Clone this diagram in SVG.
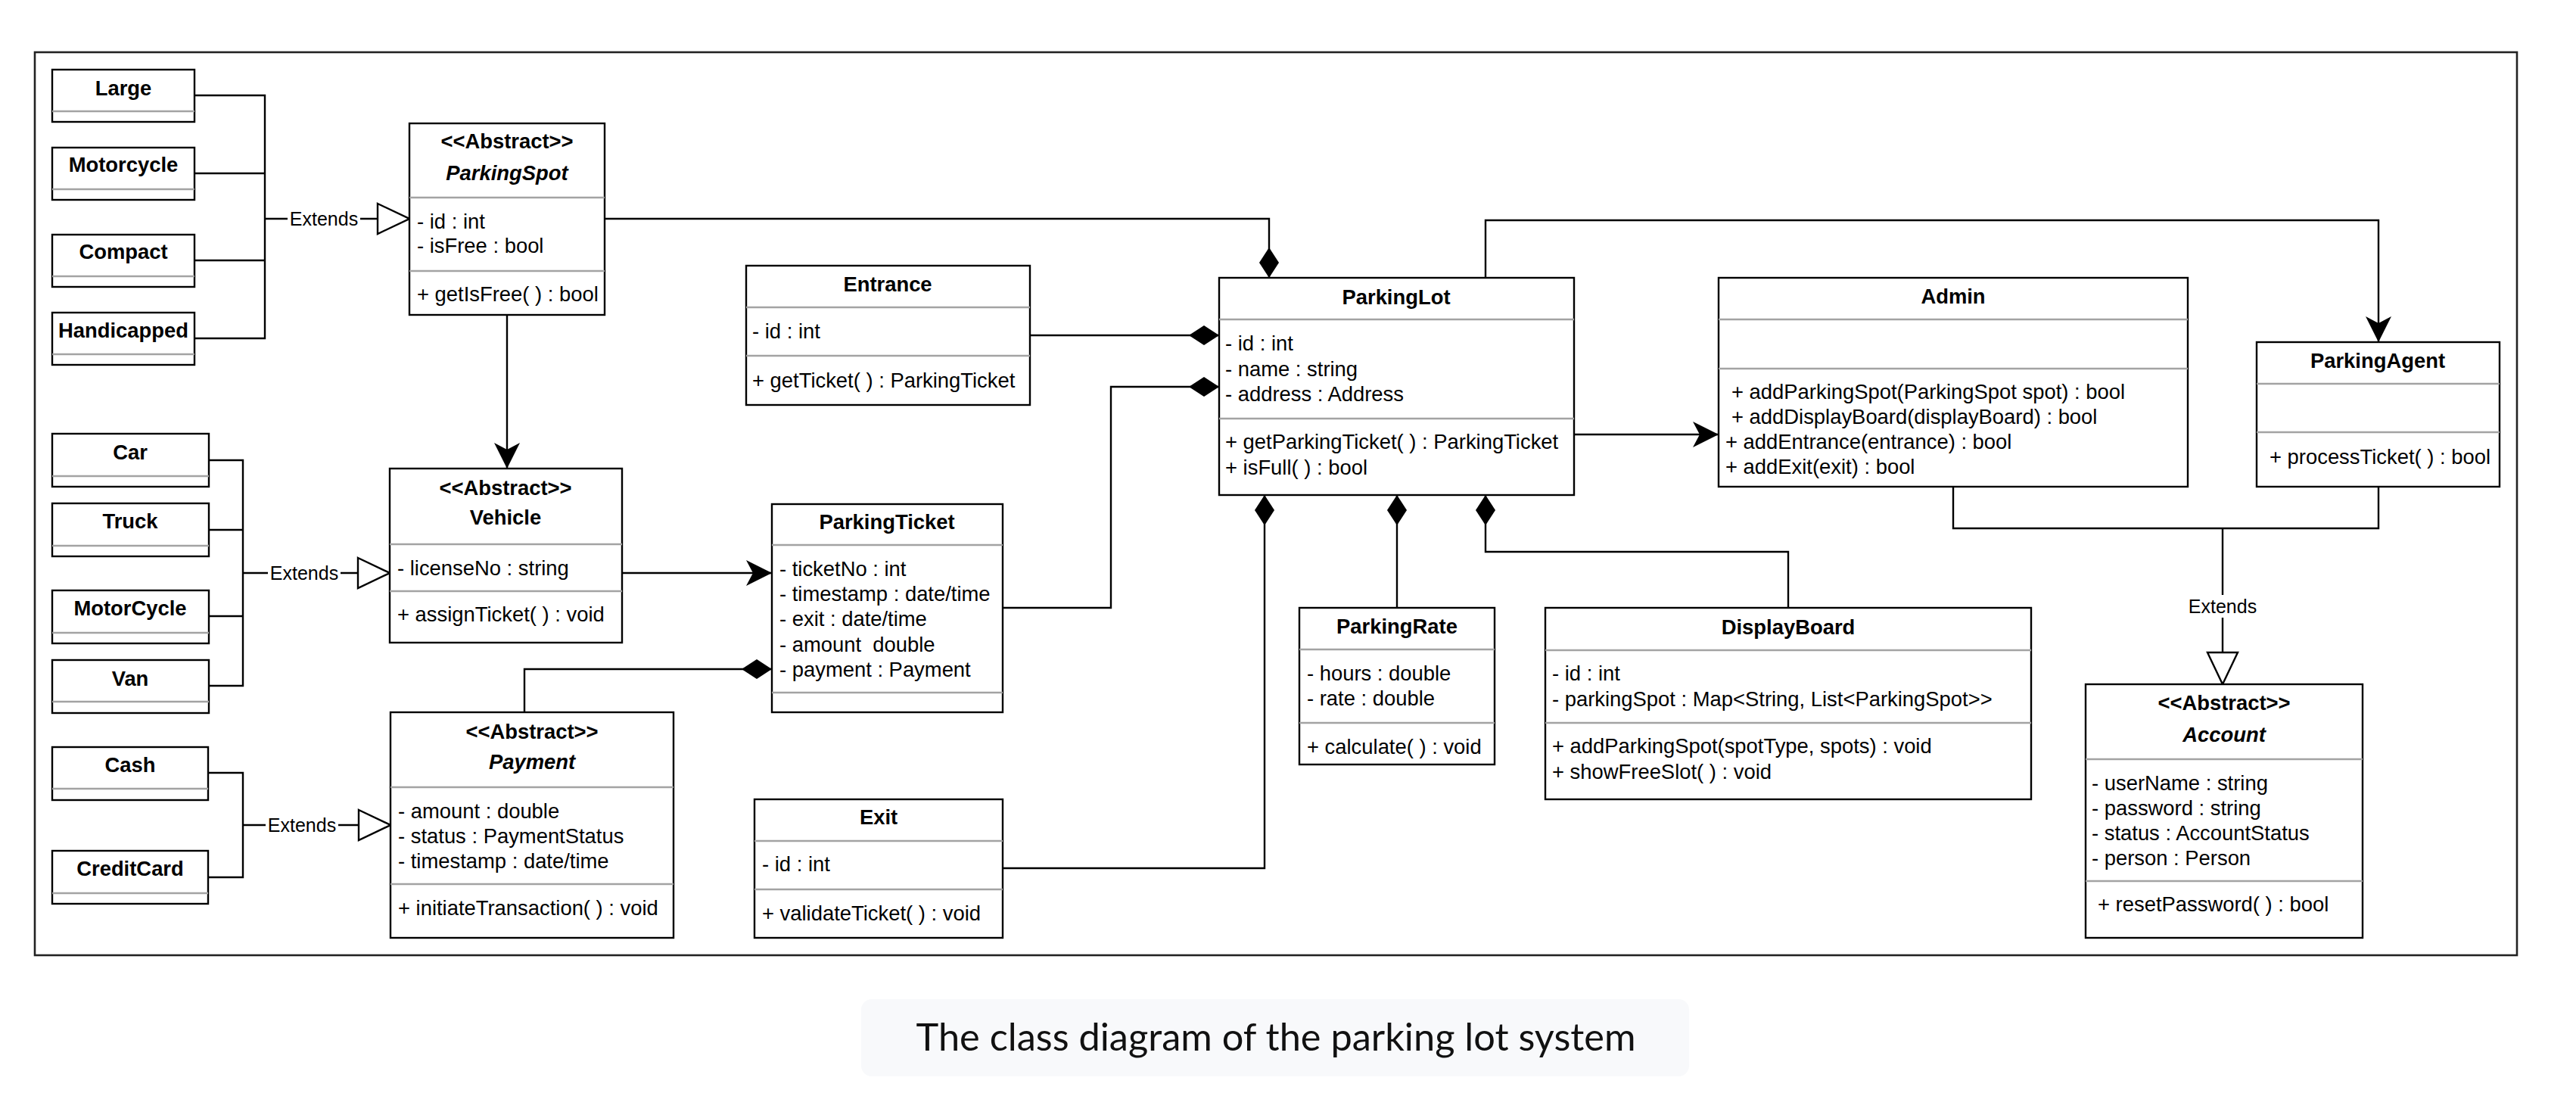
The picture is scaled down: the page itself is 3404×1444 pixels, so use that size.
<svg xmlns="http://www.w3.org/2000/svg" width="3404" height="1444" viewBox="0 0 3404 1444">
<style>
.box{fill:#fff;stroke:#000;stroke-width:2.4}
.sep{stroke:#a3a3a3;stroke-width:2.4}
.t{font-family:"Liberation Sans",Arial,Helvetica,sans-serif;font-size:27.4px;fill:#000}
.b{font-weight:bold}
.i{font-style:italic}
.c{text-anchor:middle}
.edge{fill:none;stroke:#000;stroke-width:2.4}
.lbl{font-family:"Liberation Sans",Arial,Helvetica,sans-serif;font-size:25px;fill:#000;text-anchor:middle}
.lblbg{fill:#fff}
.frame{fill:#fff;stroke:#222;stroke-width:2.6}
</style>
<defs>
<marker id="diamond" viewBox="0 0 40 26" refX="40" refY="13" markerWidth="40" markerHeight="26" markerUnits="userSpaceOnUse" orient="auto">
<path d="M0,13 L20,0 L40,13 L20,26 Z" fill="#000"/>
</marker>
<marker id="arrow" viewBox="0 0 34 34" refX="34" refY="17" markerWidth="34" markerHeight="34" markerUnits="userSpaceOnUse" orient="auto">
<path d="M0,0 L34,17 L0,34 L9,17 Z" fill="#000"/>
</marker>
<marker id="tri" viewBox="-2 -2 46 44" refX="42" refY="20" markerWidth="46" markerHeight="44" markerUnits="userSpaceOnUse" orient="auto">
<path d="M0,0 L42,20 L0,40 Z" fill="#fff" stroke="#000" stroke-width="2.4"/>
</marker>
</defs>
<rect width="3404" height="1444" fill="#fff"/>
<rect class="frame" x="46" y="69" width="3280" height="1193"/>

<g id="connectors">
<!-- ParkingSpot subclasses -->
<path class="edge" d="M257,126 H350 V447 H257 M257,229 H350 M257,344 H350"/>
<path class="edge" d="M350,289 H541" marker-end="url(#tri)"/>
<rect class="lblbg" x="380" y="274" width="96" height="30"/>
<text class="lbl" x="428" y="298">Extends</text>
<!-- Vehicle subclasses -->
<path class="edge" d="M276,608 H321 V906 H276 M276,700 H321 M276,814 H321"/>
<path class="edge" d="M321,757 H515" marker-end="url(#tri)"/>
<rect class="lblbg" x="354" y="742" width="96" height="30"/>
<text class="lbl" x="402" y="766">Extends</text>
<!-- Payment subclasses -->
<path class="edge" d="M275,1021 H321 V1159 H275"/>
<path class="edge" d="M321,1090 H516" marker-end="url(#tri)"/>
<rect class="lblbg" x="351" y="1075" width="96" height="30"/>
<text class="lbl" x="399" y="1099">Extends</text>
<!-- Account subclasses -->
<path class="edge" d="M2581,643 V698 H3143 V643"/>
<path class="edge" d="M2937,698 V904" marker-end="url(#tri)"/>
<rect class="lblbg" x="2889" y="786" width="96" height="30"/>
<text class="lbl" x="2937" y="810">Extends</text>
<!-- compositions into ParkingLot -->
<path class="edge" d="M799,289 H1677 V367" marker-end="url(#diamond)"/>
<path class="edge" d="M1361,443 H1611" marker-end="url(#diamond)"/>
<path class="edge" d="M1325,803 H1468 V511 H1611" marker-end="url(#diamond)"/>
<path class="edge" d="M1325,1147 H1671 V654" marker-end="url(#diamond)"/>
<path class="edge" d="M1846,803 V654" marker-end="url(#diamond)"/>
<path class="edge" d="M2363,803 V729 H1963 V654" marker-end="url(#diamond)"/>
<!-- Payment into ParkingTicket -->
<path class="edge" d="M693,941 V884 H1020" marker-end="url(#diamond)"/>
<!-- associations -->
<path class="edge" d="M670,416 V619" marker-end="url(#arrow)"/>
<path class="edge" d="M822,757 H1020" marker-end="url(#arrow)"/>
<path class="edge" d="M2080,574 H2271" marker-end="url(#arrow)"/>
<path class="edge" d="M1963,367 V291 H3143 V452" marker-end="url(#arrow)"/>
</g>

<g id="large">
<rect class="box" x="69" y="92" width="188" height="69"/>
<line class="sep" x1="69" y1="147" x2="257" y2="147"/>
<text class="t b c" x="163" y="126">Large</text>
</g>
<g id="motorcycle-spot">
<rect class="box" x="69" y="195" width="188" height="69"/>
<line class="sep" x1="69" y1="250" x2="257" y2="250"/>
<text class="t b c" x="163" y="227">Motorcycle</text>
</g>
<g id="compact">
<rect class="box" x="69" y="310" width="188" height="69"/>
<line class="sep" x1="69" y1="365" x2="257" y2="365"/>
<text class="t b c" x="163" y="342">Compact</text>
</g>
<g id="handicapped">
<rect class="box" x="69" y="413" width="188" height="69"/>
<line class="sep" x1="69" y1="468" x2="257" y2="468"/>
<text class="t b c" x="163" y="446">Handicapped</text>
</g>

<g id="parkingspot">
<rect class="box" x="541" y="163" width="258" height="253"/>
<line class="sep" x1="541" y1="261" x2="799" y2="261"/>
<line class="sep" x1="541" y1="358" x2="799" y2="358"/>
<text class="t b c" x="670" y="196">&lt;&lt;Abstract&gt;&gt;</text>
<text class="t b i c" x="670" y="238">ParkingSpot</text>
<text class="t" x="551" y="302">- id : int</text>
<text class="t" x="551" y="334">- isFree : bool</text>
<text class="t" x="551" y="398">+ getIsFree( ) : bool</text>
</g>

<g id="car">
<rect class="box" x="69" y="573" width="207" height="70"/>
<line class="sep" x1="69" y1="629" x2="276" y2="629"/>
<text class="t b c" x="172" y="607">Car</text>
</g>
<g id="truck">
<rect class="box" x="69" y="665" width="207" height="70"/>
<line class="sep" x1="69" y1="721" x2="276" y2="721"/>
<text class="t b c" x="172" y="698">Truck</text>
</g>
<g id="motorcycle-vehicle">
<rect class="box" x="69" y="780" width="207" height="70"/>
<line class="sep" x1="69" y1="836" x2="276" y2="836"/>
<text class="t b c" x="172" y="813">MotorCycle</text>
</g>
<g id="van">
<rect class="box" x="69" y="872" width="207" height="70"/>
<line class="sep" x1="69" y1="927" x2="276" y2="927"/>
<text class="t b c" x="172" y="906">Van</text>
</g>

<g id="vehicle">
<rect class="box" x="515" y="619" width="307" height="230"/>
<line class="sep" x1="515" y1="719" x2="822" y2="719"/>
<line class="sep" x1="515" y1="781" x2="822" y2="781"/>
<text class="t b c" x="668" y="654">&lt;&lt;Abstract&gt;&gt;</text>
<text class="t b c" x="668" y="693">Vehicle</text>
<text class="t" x="525" y="760">- licenseNo : string</text>
<text class="t" x="525" y="821">+ assignTicket( ) : void</text>
</g>

<g id="cash">
<rect class="box" x="69" y="987" width="206" height="70"/>
<line class="sep" x1="69" y1="1042" x2="275" y2="1042"/>
<text class="t b c" x="172" y="1020">Cash</text>
</g>
<g id="creditcard">
<rect class="box" x="69" y="1124" width="206" height="70"/>
<line class="sep" x1="69" y1="1180" x2="275" y2="1180"/>
<text class="t b c" x="172" y="1157">CreditCard</text>
</g>

<g id="payment">
<rect class="box" x="516" y="941" width="374" height="298"/>
<line class="sep" x1="516" y1="1040" x2="890" y2="1040"/>
<line class="sep" x1="516" y1="1168" x2="890" y2="1168"/>
<text class="t b c" x="703" y="976">&lt;&lt;Abstract&gt;&gt;</text>
<text class="t b i c" x="703" y="1016">Payment</text>
<text class="t" x="526" y="1081">- amount : double</text>
<text class="t" x="526" y="1114">- status : PaymentStatus</text>
<text class="t" x="526" y="1147">- timestamp : date/time</text>
<text class="t" x="526" y="1209">+ initiateTransaction( ) : void</text>
</g>

<g id="entrance">
<rect class="box" x="986" y="351" width="375" height="184"/>
<line class="sep" x1="986" y1="406" x2="1361" y2="406"/>
<line class="sep" x1="986" y1="470" x2="1361" y2="470"/>
<text class="t b c" x="1173" y="385">Entrance</text>
<text class="t" x="994" y="447">- id : int</text>
<text class="t" x="994" y="512">+ getTicket( ) : ParkingTicket</text>
</g>

<g id="parkinglot">
<rect class="box" x="1611" y="367" width="469" height="287"/>
<line class="sep" x1="1611" y1="422" x2="2080" y2="422"/>
<line class="sep" x1="1611" y1="553" x2="2080" y2="553"/>
<text class="t b c" x="1845" y="402">ParkingLot</text>
<text class="t" x="1619" y="463">- id : int</text>
<text class="t" x="1619" y="497">- name : string</text>
<text class="t" x="1619" y="530">- address : Address</text>
<text class="t" x="1619" y="593">+ getParkingTicket( ) : ParkingTicket</text>
<text class="t" x="1619" y="627">+ isFull( ) : bool</text>
</g>

<g id="parkingticket">
<rect class="box" x="1020" y="666" width="305" height="275"/>
<line class="sep" x1="1020" y1="720" x2="1325" y2="720"/>
<line class="sep" x1="1020" y1="915" x2="1325" y2="915"/>
<text class="t b c" x="1172" y="699">ParkingTicket</text>
<text class="t" x="1030" y="761">- ticketNo : int</text>
<text class="t" x="1030" y="794">- timestamp : date/time</text>
<text class="t" x="1030" y="827">- exit : date/time</text>
<text class="t" x="1030" y="861">- amount&#160; double</text>
<text class="t" x="1030" y="894">- payment : Payment</text>
</g>

<g id="exit">
<rect class="box" x="997" y="1056" width="328" height="183"/>
<line class="sep" x1="997" y1="1111" x2="1325" y2="1111"/>
<line class="sep" x1="997" y1="1175" x2="1325" y2="1175"/>
<text class="t b c" x="1161" y="1089">Exit</text>
<text class="t" x="1007" y="1151">- id : int</text>
<text class="t" x="1007" y="1216">+ validateTicket( ) : void</text>
</g>

<g id="parkingrate">
<rect class="box" x="1717" y="803" width="258" height="207"/>
<line class="sep" x1="1717" y1="858" x2="1975" y2="858"/>
<line class="sep" x1="1717" y1="955" x2="1975" y2="955"/>
<text class="t b c" x="1846" y="837">ParkingRate</text>
<text class="t" x="1727" y="899">- hours : double</text>
<text class="t" x="1727" y="932">- rate : double</text>
<text class="t" x="1727" y="996">+ calculate( ) : void</text>
</g>

<g id="displayboard">
<rect class="box" x="2042" y="803" width="642" height="253"/>
<line class="sep" x1="2042" y1="859" x2="2684" y2="859"/>
<line class="sep" x1="2042" y1="955" x2="2684" y2="955"/>
<text class="t b c" x="2363" y="838">DisplayBoard</text>
<text class="t" x="2051" y="899">- id : int</text>
<text class="t" x="2051" y="933">- parkingSpot : Map&lt;String, List&lt;ParkingSpot&gt;&gt;</text>
<text class="t" x="2051" y="995">+ addParkingSpot(spotType, spots) : void</text>
<text class="t" x="2051" y="1029">+ showFreeSlot( ) : void</text>
</g>

<g id="admin">
<rect class="box" x="2271" y="367" width="620" height="276"/>
<line class="sep" x1="2271" y1="422" x2="2891" y2="422"/>
<line class="sep" x1="2271" y1="487" x2="2891" y2="487"/>
<text class="t b c" x="2581" y="401">Admin</text>
<text class="t" x="2288" y="527">+ addParkingSpot(ParkingSpot spot) : bool</text>
<text class="t" x="2288" y="560">+ addDisplayBoard(displayBoard) : bool</text>
<text class="t" x="2280" y="593">+ addEntrance(entrance) : bool</text>
<text class="t" x="2280" y="626">+ addExit(exit) : bool</text>
</g>

<g id="parkingagent">
<rect class="box" x="2982" y="452" width="321" height="191"/>
<line class="sep" x1="2982" y1="507" x2="3303" y2="507"/>
<line class="sep" x1="2982" y1="571" x2="3303" y2="571"/>
<text class="t b c" x="3142" y="486">ParkingAgent</text>
<text class="t" x="2999" y="613">+ processTicket( ) : bool</text>
</g>

<g id="account">
<rect class="box" x="2756" y="904" width="366" height="335"/>
<line class="sep" x1="2756" y1="1003" x2="3122" y2="1003"/>
<line class="sep" x1="2756" y1="1164" x2="3122" y2="1164"/>
<text class="t b c" x="2939" y="938">&lt;&lt;Abstract&gt;&gt;</text>
<text class="t b i c" x="2939" y="980">Account</text>
<text class="t" x="2764" y="1044">- userName : string</text>
<text class="t" x="2764" y="1077">- password : string</text>
<text class="t" x="2764" y="1110">- status : AccountStatus</text>
<text class="t" x="2764" y="1143">- person : Person</text>
<text class="t" x="2772" y="1204">+ resetPassword( ) : bool</text>
</g>

<g id="caption">
<rect x="1138" y="1320" width="1094" height="102" rx="14" fill="#f8f9fb"/>
<text x="1686" y="1388" font-family="Lato,'Noto Sans',sans-serif" font-size="50.5" fill="#111" text-anchor="middle">The class diagram of the parking lot system</text>
</g>
</svg>
